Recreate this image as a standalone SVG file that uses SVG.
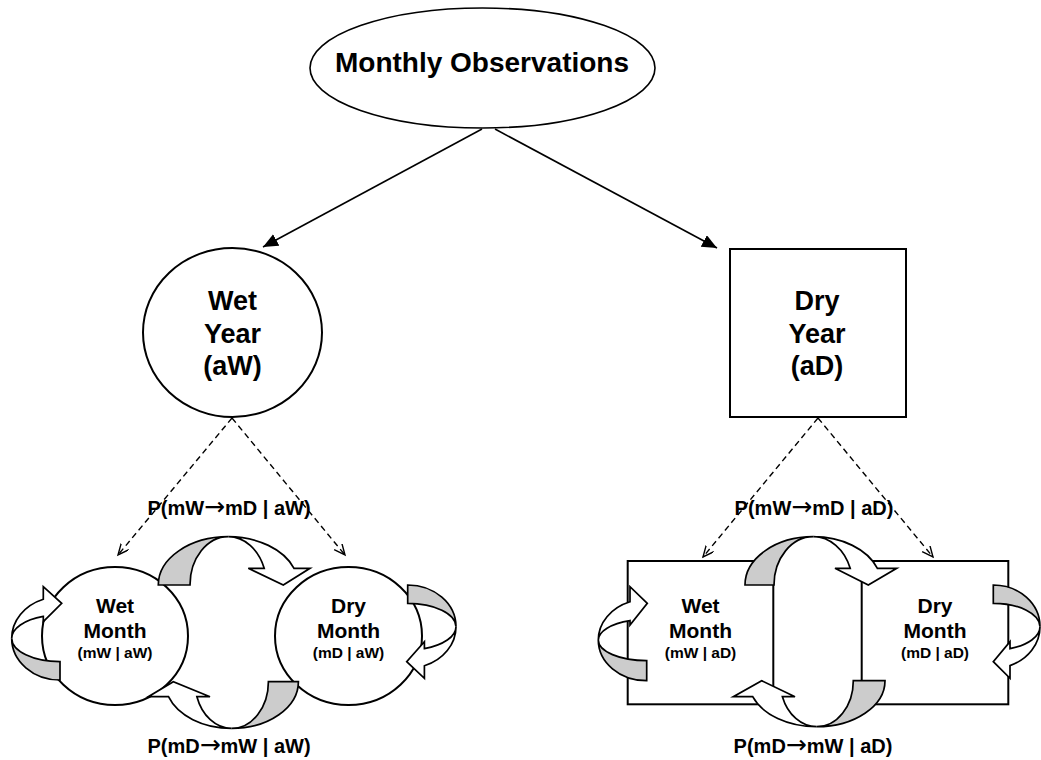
<svg xmlns="http://www.w3.org/2000/svg" width="1041" height="760" viewBox="0 0 1041 760">
<defs>
<style>
text{font-family:"Liberation Sans",Arial,Helvetica,sans-serif;font-weight:bold;fill:#000;text-anchor:middle}
.big{font-size:28px}
.yr{font-size:27px}
.mo{font-size:21px}
.sm{font-size:15.5px}
.lbl{font-size:20px}
.arr{font-family:"DejaVu Sans",sans-serif;font-weight:normal;font-size:25px}
.node{fill:#fff;stroke:#000;stroke-width:2}
.nodeo{fill:none;stroke:#000;stroke-width:2}
.solid{stroke:#000;stroke-width:1.6;fill:none;marker-end:url(#tri)}
.dash{stroke:#000;stroke-width:1.4;fill:none;stroke-dasharray:6,4;marker-end:url(#vee)}
.back{fill:#cccccc;stroke:#000;stroke-width:1.7;stroke-linejoin:miter}
.front{fill:#fff;stroke:#000;stroke-width:1.7;stroke-linejoin:miter}
</style>
<marker id="tri" markerUnits="userSpaceOnUse" markerWidth="16" markerHeight="14" refX="15" refY="6.5" orient="auto">
<path d="M0,0 L15,6.5 L0,13 Z" fill="#000"/>
</marker>
<marker id="vee" markerUnits="userSpaceOnUse" markerWidth="14" markerHeight="12" refX="11" refY="5" orient="auto">
<path d="M0,0 L11,5 L0,10" fill="none" stroke="#000" stroke-width="1.4"/>
</marker>
</defs>
<rect width="1041" height="760" fill="#fff"/>

<g id="connectors">
<line class="solid" x1="482" y1="129" x2="263" y2="247"/>
<line class="solid" x1="495" y1="129" x2="717" y2="248"/>
<line class="dash" x1="232" y1="418" x2="118" y2="555"/>
<line class="dash" x1="232" y1="418" x2="345" y2="555"/>
<line class="dash" x1="818" y1="418" x2="703" y2="557"/>
<line class="dash" x1="818" y1="418" x2="933" y2="557"/>
</g>

<g id="node-monthly">
<ellipse cx="482.5" cy="68" rx="172.5" ry="60" fill="#fff" stroke="#000" stroke-width="1.6"/>
<text class="big" x="482" y="72">Monthly Observations</text>
</g>

<g id="node-wet-year">
<ellipse class="node" cx="232.5" cy="332.5" rx="89.5" ry="84.5"/>
<text class="yr" x="232.5" y="310">Wet</text>
<text class="yr" x="232.5" y="342.5">Year</text>
<text class="yr" x="232.5" y="375">(aW)</text>
</g>

<g id="node-dry-year">
<rect class="node" x="730" y="249" width="176" height="168"/>
<text class="yr" x="817" y="310">Dry</text>
<text class="yr" x="817" y="342.5">Year</text>
<text class="yr" x="817" y="375">(aD)</text>
</g>

<g id="node-wet-month-aw">
<ellipse class="node" cx="115" cy="636" rx="73" ry="69"/>
<text class="mo" x="115" y="613">Wet</text>
<text class="mo" x="115" y="638">Month</text>
<text class="sm" x="115" y="658">(mW | aW)</text>
</g>

<g id="node-dry-month-aw">
<ellipse class="node" cx="348.5" cy="636" rx="73.5" ry="69"/>
<text class="mo" x="348.5" y="613">Dry</text>
<text class="mo" x="348.5" y="638">Month</text>
<text class="sm" x="348.5" y="658">(mD | aW)</text>
</g>

<g id="node-wet-month-ad">
<rect class="nodeo" x="627.7" y="561" width="145.6" height="143.3"/>
<text class="mo" x="700.5" y="613">Wet</text>
<text class="mo" x="700.5" y="638">Month</text>
<text class="sm" x="700.5" y="658">(mW | aD)</text>
</g>

<g id="node-dry-month-ad">
<rect class="nodeo" x="861.7" y="561" width="146.6" height="143.3"/>
<text class="mo" x="935" y="613">Dry</text>
<text class="mo" x="935" y="638">Month</text>
<text class="sm" x="935" y="658">(mD | aD)</text>
</g>

<g id="transitions">
<path class="back" d="M158.3,585 A70,48.3 0 0 1 228.3,536.7 A38.3,48.3 0 0 0 190,585 Z"/>
<path class="front" d="M228.3,536.7 A70,48.3 0 0 1 294,568.3 L310,568.3 L283.3,585 L248.3,568.3 L264.2,568.3 A38.3,48.3 0 0 0 228.3,536.7 Z"/>
<path class="back" d="M298.4,681.7 A66.7,46.7 0 0 1 231.7,728.4 A36.7,46.7 0 0 0 268.4,681.7 Z"/>
<path class="front" d="M231.7,728.4 A66.7,46.7 0 0 1 168.5,696.7 L148.3,696.7 L173.3,681.7 L210,696.7 L196.9,696.7 A36.7,46.7 0 0 0 231.7,728.4 Z"/>
<path class="back" d="M60,680 A48.3,41.7 0 0 1 11.7,638.3 A48.3,23.3 0 0 0 60,661.6 Z"/>
<path class="front" d="M11.7,638.3 A48.3,41.7 0 0 1 43.3,599.2 L43.3,586.7 L61.7,603.3 L43.3,621.7 L43.3,616.4 A48.3,23.3 0 0 0 11.7,638.3 Z"/>
<path class="back" d="M407.7,585 A48.3,41.7 0 0 1 456,626.7 A48.3,23.4 0 0 0 407.7,603.3 Z"/>
<path class="front" d="M456,626.7 A48.3,41.7 0 0 1 424.4,665.8 L424.4,678.3 L406.7,661.7 L424.4,641.7 L424.4,648.6 A48.3,23.4 0 0 0 456,626.7 Z"/>

<path class="back" d="M745,585 A68.3,48.3 0 0 1 813.3,536.7 A39.3,48.3 0 0 0 774,585 Z"/>
<path class="front" d="M813.3,536.7 A68.3,48.3 0 0 1 877.4,568.3 L896.7,568.3 L868.3,585 L835,568.3 L850.2,568.3 A39.3,48.3 0 0 0 813.3,536.7 Z"/>
<path class="back" d="M885,680.7 A68.3,46 0 0 1 816.7,726.7 A36.6,46 0 0 0 853.3,680.7 Z"/>
<path class="front" d="M816.7,726.7 A68.3,46 0 0 1 752.7,696.7 L733.3,696.7 L761.7,680.7 L795,696.7 L782.4,696.7 A36.6,46 0 0 0 816.7,726.7 Z"/>
<path class="back" d="M646.7,680.7 A48.4,40.7 0 0 1 598.3,640 A48.4,20.7 0 0 0 646.7,660.7 Z"/>
<path class="front" d="M598.3,640 A48.4,40.7 0 0 1 630,601.8 L630,586.7 L647.3,603.3 L630,625 L630,620.6 A48.4,20.7 0 0 0 598.3,640 Z"/>
<path class="back" d="M993.3,585 A46.7,41.7 0 0 1 1040,626.7 A46.7,23.4 0 0 0 993.3,603.3 Z"/>
<path class="front" d="M1040,626.7 A46.7,41.7 0 0 1 1010,665.6 L1010,678.3 L993.3,661.7 L1010,641.7 L1010,648.6 A46.7,23.4 0 0 0 1040,626.7 Z"/>
</g>

<g id="labels">
<text class="lbl" x="229" y="515">P(mW<tspan class="arr">→</tspan>mD | aW)</text>
<text class="lbl" x="814" y="515">P(mW<tspan class="arr">→</tspan>mD | aD)</text>
<text class="lbl" x="229" y="753">P(mD<tspan class="arr">→</tspan>mW | aW)</text>
<text class="lbl" x="813" y="753">P(mD<tspan class="arr">→</tspan>mW | aD)</text>
</g>
</svg>
